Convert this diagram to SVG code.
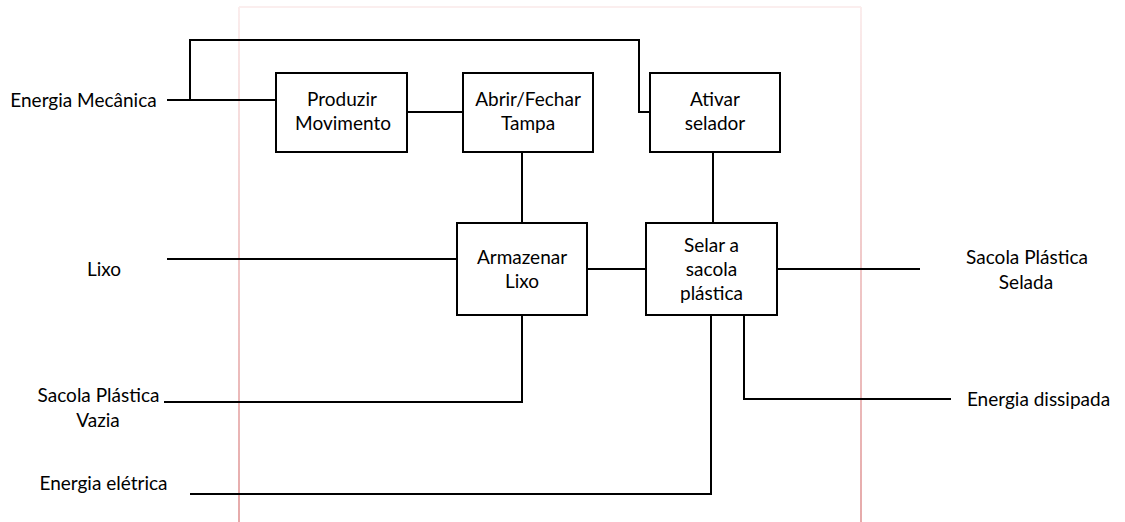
<svg xmlns="http://www.w3.org/2000/svg" width="1125" height="522" viewBox="0 0 1125 522">
  <style>
    .box { fill: #ffffff; stroke: #000000; stroke-width: 2; }
    .wire { fill: none; stroke: #000000; stroke-width: 2; }
    .frame { fill: none; stroke-width: 2; }
    text { font-family: Lato, "Liberation Sans", sans-serif; font-size: 19px; fill: #000000; text-anchor: middle; }
  </style>
  <defs>
    <linearGradient id="pinkV" gradientUnits="userSpaceOnUse" x1="0" y1="0" x2="0" y2="522">
      <stop offset="0" stop-color="#fbeeee"/>
      <stop offset="0.35" stop-color="#f3d2d2"/>
      <stop offset="1" stop-color="#e6aaaa"/>
    </linearGradient>
  </defs>
  <rect x="0" y="0" width="1125" height="522" fill="#ffffff"/>
  <g id="frame">
    <line x1="239" y1="7" x2="861" y2="7" stroke="#fbeeee" stroke-width="2"/>
    <line x1="239" y1="7" x2="239" y2="522" stroke="url(#pinkV)" stroke-width="2"/>
    <line x1="861" y1="7" x2="861" y2="522" stroke="url(#pinkV)" stroke-width="2"/>
  </g>
  <g id="connectors">
    <polyline class="wire" points="167,100 276,100"/>
    <polyline class="wire" points="190,100 190,40 639,40 639,112 650,112"/>
    <polyline class="wire" points="407,112 463,112"/>
    <polyline class="wire" points="522,152 522,223"/>
    <polyline class="wire" points="713,152 713,223"/>
    <polyline class="wire" points="167,259 457,259"/>
    <polyline class="wire" points="587,269 646,269"/>
    <polyline class="wire" points="777,269 920,269"/>
    <polyline class="wire" points="164,402 522,402 522,315"/>
    <polyline class="wire" points="190,494 711,494 711,315"/>
    <polyline class="wire" points="744,315 744,399 951,399"/>
  </g>
  <g id="label-energia-mecanica"><text x="83.5" y="107">Energia Mecânica</text></g>
  <g id="label-lixo"><text x="104" y="276">Lixo</text></g>
  <g id="label-sacola-vazia"><text x="98.5" y="402">Sacola Plástica</text><text x="98" y="427">Vazia</text></g>
  <g id="label-energia-eletrica"><text x="103.5" y="490">Energia elétrica</text></g>
  <g id="label-sacola-selada"><text x="1027" y="264">Sacola Plástica</text><text x="1026" y="289">Selada</text></g>
  <g id="label-energia-dissipada"><text x="1038.5" y="406">Energia dissipada</text></g>
  <g id="node-produzir">
    <rect class="box" x="276" y="73" width="131" height="79"/>
    <text x="342" y="106">Produzir</text><text x="343" y="130">Movimento</text>
  </g>
  <g id="node-abrir">
    <rect class="box" x="463" y="73" width="130" height="79"/>
    <text x="528" y="106">Abrir/Fechar</text><text x="528" y="130">Tampa</text>
  </g>
  <g id="node-ativar">
    <rect class="box" x="650" y="73" width="130" height="79"/>
    <text x="715" y="106">Ativar</text><text x="715" y="130">selador</text>
  </g>
  <g id="node-armazenar">
    <rect class="box" x="457" y="223" width="130" height="92"/>
    <text x="522" y="264">Armazenar</text><text x="522" y="288">Lixo</text>
  </g>
  <g id="node-selar">
    <rect class="box" x="646" y="223" width="131" height="92"/>
    <text x="711.5" y="252">Selar a</text><text x="711.5" y="276">sacola</text><text x="711.5" y="300">plástica</text>
  </g>
</svg>
